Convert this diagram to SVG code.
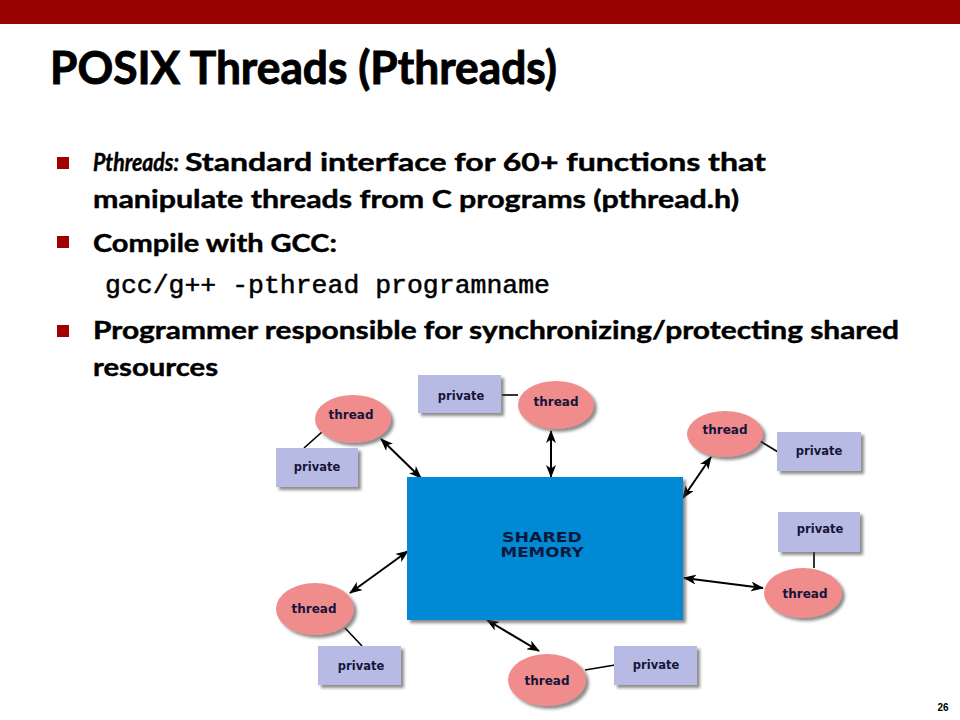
<svg xmlns="http://www.w3.org/2000/svg" width="960" height="720" viewBox="0 0 960 720">
<style>
.body{font-family:Lato,"Open Sans","Liberation Sans",sans-serif;font-weight:bold;font-size:25px;fill:#000;stroke:#000;stroke-width:0.45}
.mono{font-family:"Liberation Mono","Courier New",monospace;font-size:26px;fill:#000;stroke:#000;stroke-width:0.5}
.bullet{fill:#a00000}
.thread{fill:#f08c8c;filter:url(#sh)}
.priv{fill:#b7bbe3;filter:url(#sh)}
.lbl{font-family:"DejaVu Sans",Verdana,sans-serif;font-weight:bold;font-size:11.5px;fill:#15153a;text-anchor:middle}
.tl{font-size:12px}
.arrow{stroke:#000;stroke-width:2;fill:none;marker-start:url(#ah);marker-end:url(#ah)}
.link{stroke:#000;stroke-width:1.6;fill:none}
</style>
<defs>
<filter id="sh" x="-20%" y="-20%" width="150%" height="150%">
<feDropShadow dx="3" dy="3" stdDeviation="1.5" flood-color="#404040" flood-opacity="0.6"/>
</filter>
<marker id="ah" viewBox="0 0 13 10" refX="12" refY="5" markerWidth="13" markerHeight="10" markerUnits="userSpaceOnUse" orient="auto-start-reverse">
<path d="M0,0 L13,5 L0,10 L3.5,5 z" fill="#000"/>
</marker>
</defs>
<rect x="0" y="0" width="960" height="720" fill="#fff"/>
<rect x="0" y="0" width="960" height="24" fill="#990000"/>
<text x="50" y="84" style="font-family:Lato,'Open Sans','Liberation Sans',sans-serif;font-weight:bold;font-size:45px;stroke:#000;stroke-width:0.9" textLength="507" lengthAdjust="spacingAndGlyphs">POSIX Threads (Pthreads)</text>

<rect class="bullet" x="57" y="157" width="12" height="12"/>
<text class="body" x="93" y="171" font-style="italic" textLength="86" lengthAdjust="spacingAndGlyphs">Pthreads:</text>
<text class="body" x="185" y="171" textLength="581" lengthAdjust="spacingAndGlyphs">Standard interface for 60+ functions that</text>
<text class="body" x="93" y="208" textLength="646" lengthAdjust="spacingAndGlyphs">manipulate threads from C programs (pthread.h)</text>
<rect class="bullet" x="57" y="236" width="12" height="12"/>
<text class="body" x="93" y="252" textLength="244" lengthAdjust="spacingAndGlyphs">Compile with GCC:</text>
<text class="mono" x="105" y="293" textLength="445" lengthAdjust="spacingAndGlyphs">gcc/g++ -pthread programname</text>
<rect class="bullet" x="57" y="325" width="12" height="12"/>
<text class="body" x="93" y="339" textLength="806" lengthAdjust="spacingAndGlyphs">Programmer responsible for synchronizing/protecting shared</text>
<text class="body" x="93" y="376" textLength="125" lengthAdjust="spacingAndGlyphs">resources</text>

<g id="connectors">
<line class="arrow" x1="381" y1="439" x2="421" y2="478"/>
<line class="arrow" x1="551" y1="431" x2="551" y2="477"/>
<line class="arrow" x1="711" y1="457" x2="683" y2="498"/>
<line class="arrow" x1="684" y1="578" x2="763" y2="588"/>
<line class="arrow" x1="350" y1="593" x2="408" y2="551"/>
<line class="arrow" x1="487" y1="620" x2="539" y2="651"/>
<line class="link" x1="304" y1="448" x2="322" y2="432"/>
<line class="link" x1="502" y1="395" x2="518" y2="395"/>
<line class="link" x1="760" y1="441" x2="778" y2="452"/>
<line class="link" x1="814" y1="552" x2="814" y2="568"/>
<line class="link" x1="345" y1="628" x2="362" y2="646"/>
<line class="link" x1="585" y1="670" x2="615" y2="665"/>
</g>

<g id="shared-memory">
<rect x="407" y="477" width="276" height="143" fill="#0589d4" filter="url(#sh)"/>
<text x="542" y="542" style="font-family:'DejaVu Sans',Verdana,sans-serif;font-weight:bold;font-size:14px;fill:#0b1a3c" text-anchor="middle" textLength="80" lengthAdjust="spacingAndGlyphs">SHARED</text>
<text x="542" y="557" style="font-family:'DejaVu Sans',Verdana,sans-serif;font-weight:bold;font-size:14px;fill:#0b1a3c" text-anchor="middle" textLength="83" lengthAdjust="spacingAndGlyphs">MEMORY</text>
</g>

<g id="thread1"><ellipse class="thread" cx="353" cy="419" rx="38" ry="24"/><text class="lbl tl" x="351" y="419">thread</text></g>
<g id="private1"><rect class="priv" x="276" y="448" width="82" height="39"/><text class="lbl" x="317" y="471">private</text></g>
<g id="thread2"><ellipse class="thread" cx="556" cy="405" rx="38" ry="24"/><text class="lbl tl" x="556" y="406">thread</text></g>
<g id="private2"><rect class="priv" x="418" y="375" width="83" height="38"/><text class="lbl" x="461" y="400">private</text></g>
<g id="thread3"><ellipse class="thread" cx="725" cy="434" rx="38" ry="23"/><text class="lbl tl" x="725" y="434">thread</text></g>
<g id="private3"><rect class="priv" x="777" y="432" width="84" height="39"/><text class="lbl" x="819" y="455">private</text></g>
<g id="thread4"><ellipse class="thread" cx="803" cy="593" rx="39" ry="25"/><text class="lbl tl" x="805" y="598">thread</text></g>
<g id="private4"><rect class="priv" x="778" y="512" width="82" height="40"/><text class="lbl" x="820" y="533">private</text></g>
<g id="thread5"><ellipse class="thread" cx="315" cy="609" rx="39" ry="26"/><text class="lbl tl" x="314" y="613">thread</text></g>
<g id="private5"><rect class="priv" x="318" y="646" width="83" height="39"/><text class="lbl" x="361" y="670">private</text></g>
<g id="thread6"><ellipse class="thread" cx="547" cy="680" rx="39" ry="26"/><text class="lbl tl" x="547" y="685">thread</text></g>
<g id="private6"><rect class="priv" x="614" y="646" width="83" height="39"/><text class="lbl" x="656" y="669">private</text></g>

<text x="943" y="711" text-anchor="middle" style="font-family:'Liberation Sans',Arial,sans-serif;font-weight:bold;font-size:10px">26</text>
</svg>
